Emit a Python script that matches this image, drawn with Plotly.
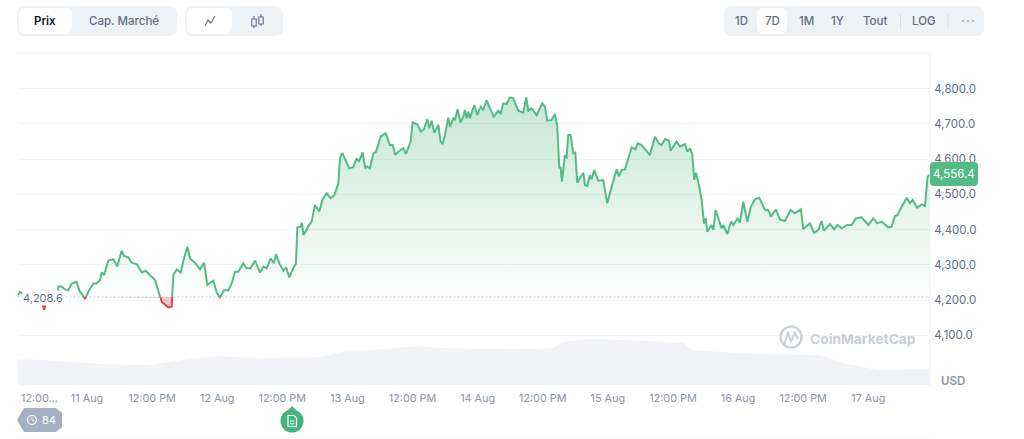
import numpy as np
import plotly.graph_objects as go

# ---------- data ----------
hours = [-12.7,-12.35,-10.5,-8.3,-7.9,-7.5,-5.5,-5.28,-4.67,-4.05,-3.44,-2.82,-1.9,-1.41,-0.8,-0.37,0.25,1.17,1.78,2.4,2.71,3.14,3.93,4.86,5.59,6.39,6.82,7.62,8.24,9.16,10.08,10.81,11.61,12.54,13.46,13.58,13.76,14.2,14.99,15.6,15.91,16.53,17.27,17.88,18.49,18.99,19.91,20.83,21.57,22.18,23.29,23.9,24.51,25.25,26.05,26.66,27.28,27.89,28.81,29.43,30.17,30.97,31.89,32.5,33.11,33.85,34.47,34.84,35.45,36.19,36.68,37.29,38.03,38.52,
38.76,39.38,39.62,39.87,40.48,40.79,41.4,42.02,42.82,43.37,44.17,44.9,45.58,46.32,46.62,47.05,47.55,48.34,49.08,49.7,50.13,50.8,51.29,51.66,52.15,52.77,53.26,54.12,55.04,55.84,56.33,56.82,57.37,58.3,58.79,59.65,60.02,60.88,61.55,62.1,62.72,63.09,63.52,64.01,64.75,65.18,65.55,65.97,66.59,66.9,67.51,67.82,68.31,68.86,69.35,69.66,69.97,70.27,70.58,71.38,71.93,72.55,73.04,73.65,74.27,75.0,75.8,76.23,76.73,77.34,77.95,78.57,79.49,80.41,80.96,81.33,81.95,82.87,83.91,84.4,84.83,85.63,86.25,86.68,87.05,87.29,87.54,88.09,88.4,88.7,89.13,89.63,90.0,90.36,90.85,91.47,91.78,92.21,92.7,93.0,93.5,94.23,95.15,95.89,
96.7,97.62,98.05,98.54,99.16,100.39,101.12,101.49,102.23,103.76,104.69,105.48,105.91,106.53,107.27,107.57,108.68,109.29,110.21,110.64,111.14,111.57,111.93,112.24,112.79,113.29,113.72,114.02,114.33,115.13,115.44,115.87,116.97,117.28,118.02,118.69,119.12,119.92,120.35,120.97,121.7,122.32,123.12,123.91,124.96,125.57,126.06,126.98,127.72,128.64,129.69,130.49,131.59,132.02,133.25,133.99,134.79,135.4,135.83,136.94,137.73,138.29,139.09,140.13,140.93,141.73,142.77,144.0,144.92,145.66,146.46,147.69,148.3,148.92,149.41,149.84,151.07,151.68,152.17,153.03,153.83,154.45,154.94,155.37]
prices = [4214,4223,4205,4195,4172,4195,4205,4238,4238,4230,4228,4247,4252,4226.5,4214,4203,4224,4247,4247,4257,4279,4271,4312,4316,4295,4340,4325,4321,4306,4302,4278,4283,4271,4257,4209.5,4206.6,4195.3,4188.6,4179,4181,4271,4287,4278,4318,4351.5,4318,4306,4287,4306,4242.6,4255,4221,4207.6,4228,4228,4247,4280.5,4280.5,4304,4290,4290,4312,4278,4295,4290,4318,4304,4330,4304,4283,4293,4264,4290,4304,
4406,4408,4420,4385,4399,4410,4422.5,4470,4451,4484,4503,4489,4498,4531,4602,4618,4600,4574,4577,4602,4593,4619.4,4574,4579,4574,4616.5,4621,4664,4673.3,4640,4640,4612,4621,4631,4615,4650,4704.6,4699,4678,4685,4714,4688,4709,4675,4697,4650,4643,4668.6,4717.8,4692,4716,4711,4741.5,4703.6,4720.7,4739.6,4716,4735,4716,4753.8,4725.4,4749,4739.6,4768,4744.3,4720.7,4737.7,4728.2,4758.5,4756.6,4775.6,4772.7,4737.7,4732,4775.6,4737.7,4744.3,4725.4,4758.5,4749,4709.3,4711.2,4728.2,4692.3,4574,4578.7,4536,4611.8,4602.3,4668.6,4668.6,4616.5,4618.4,4533.2,4545.5,4561.6,4526.6,4523.7,4555,4542.7,4569.2,4538.9,4540.8,4474.5,
4521.9,4571,4552,4569.2,4571,4633.6,4627.9,4644.9,4640.2,4611.8,4663.9,4643,4640.2,4657.2,4652.5,4624.1,4649.7,4635.5,4643,4621.3,4630.7,4611.8,4540.8,4561.6,4526.6,4484,4417.7,4431.9,4394,4413,4398.8,4455.6,4403.5,4413,4387.4,4422.5,4413,4431.9,4419.6,4479.3,4422.5,4463.2,4485.9,4490.6,4455.6,4455.6,4436.7,4457.5,4429,4424.3,4455.6,4446.1,4457.5,4401.6,4417.7,4391.2,4398.8,4424.3,4396.9,4415.8,4400.7,4413,4403.5,4413,4413,4431.9,4434.8,4413,4431.9,4417.7,4422.5,4406.4,4408.3,4438.6,4441.4,4455.6,4490.6,4474.5,4484,4462.2,4471.7,4467,4550.2,4556.4]
base_price = 4208.6
last_price = 4556.4

vol_hours = [-12.7,-5,2.4,11.6,19,23.6,31.9,38.5,42.9,47.2,54,61.4,64.5,79.8,85.9,87.5,92.7,104.3,109.8,111.7,116.7,124,134.5,136.4,139.3,145.6,155.4]
volumes = [13,12,10.5,10,13,14.5,13.5,14,14,16.5,18,19.5,18.5,18,18.5,21.5,23,22,21,17.5,16.5,15.5,15,14,11,7.5,8]

y_ticks = [4100,4200,4300,4400,4500,4600,4700,4800]
x_ticks = [0,12,24,36,48,60,72,84,96,108,120,132,144]
x_labels = ["11 Aug","12:00 PM","12 Aug","12:00 PM","13 Aug","12:00 PM","14 Aug","12:00 PM","15 Aug","12:00 PM","16 Aug","12:00 PM","17 Aug"]
first_label = "12:00..."

# ---------- style ----------
GREEN = "#55bb86"; RED = "#e0424f"; TXT = "#616e85"; LIGHT = "#8a94a6"; PILL = "#eff2f5"; GRID = "#f1f3f6"
FONT = "Inter"
L, R, T, B = 18, 930, 53, 385
W = 1024; H = 439
X = lambda x: (x - L) / (R - L)
Y = lambda y: (B - y) / (B - T)

# split the series at crossings of the reference price
hx, hp = [], []
for i in range(len(hours)):
    if i and (prices[i-1] - base_price) * (prices[i] - base_price) < 0:
        f = (base_price - prices[i-1]) / (prices[i] - prices[i-1])
        hx.append(hours[i-1] + f * (hours[i] - hours[i-1])); hp.append(base_price)
    hx.append(hours[i]); hp.append(prices[i])
hx = np.array(hx); hp = np.array(hp)
up = np.where(hp >= base_price, hp, np.nan)
dn = np.where(hp <= base_price, hp, np.nan)

fig = go.Figure()
fig.add_trace(go.Scatter(x=vol_hours, y=volumes, yaxis="y2", mode="lines", line=dict(width=0, color=PILL),
                         fill="tozeroy", fillcolor="#f1f3f6", hoverinfo="skip"))
# green fill
fig.add_trace(go.Scatter(x=hx, y=np.full(len(hx), base_price), mode="lines", line=dict(width=0), hoverinfo="skip"))
fig.add_trace(go.Scatter(x=hx, y=np.maximum(hp, base_price), mode="lines", line=dict(width=0), fill="tonexty",
                         fillgradient=dict(type="vertical", start=base_price, stop=4800,
                                           colorscale=[[0, "rgba(84,181,130,0.02)"], [1, "rgba(84,181,130,0.34)"]]),
                         hoverinfo="skip"))
# red fill
fig.add_trace(go.Scatter(x=hx, y=np.full(len(hx), base_price), mode="lines", line=dict(width=0), hoverinfo="skip"))
fig.add_trace(go.Scatter(x=hx, y=np.minimum(hp, base_price), mode="lines", line=dict(width=0), fill="tonexty",
                         fillcolor="rgba(224,66,79,0.3)", hoverinfo="skip"))
# reference line
fig.add_trace(go.Scatter(x=[hours[0], hours[-1]], y=[base_price, base_price], mode="lines",
                         line=dict(color="#a6b0c3", width=1, dash="1px 3px"), hoverinfo="skip"))
# price lines
fig.add_trace(go.Scatter(x=hx, y=up, mode="lines", line=dict(color=GREEN, width=2, shape="linear"), connectgaps=False))
fig.add_trace(go.Scatter(x=hx, y=dn, mode="lines", line=dict(color=RED, width=2), connectgaps=False))

shapes, ann = [], []

def rrect(x0, y0, x1, y1, r, color):
    a, b, c, d = X(x0), Y(y0), X(x1), Y(y1)
    rx = r / (R - L); ry = r / (B - T)
    p = (f"M{a+rx},{b} L{c-rx},{b} Q{c},{b} {c},{b-ry} L{c},{d+ry} Q{c},{d} {c-rx},{d} "
         f"L{a+rx},{d} Q{a},{d} {a},{d+ry} L{a},{b-ry} Q{a},{b} {a+rx},{b} Z")
    shapes.append(dict(type="path", path=p, xref="paper", yref="paper", fillcolor=color, line=dict(width=0), layer="above"))

def poly(pts, color, width=1.2, fill=None, close=False):
    p = "M" + " L".join(f"{X(a)},{Y(b)}" for a, b in pts) + (" Z" if close else "")
    shapes.append(dict(type="path", path=p, xref="paper", yref="paper", layer="above",
                       line=dict(color=color, width=width), fillcolor=fill or "rgba(0,0,0,0)"))

def circ(cx, cy, r, line=None, fill=None, width=1.2):
    shapes.append(dict(type="circle", xref="paper", yref="paper", layer="above",
                       x0=X(cx - r), x1=X(cx + r), y0=Y(cy + r), y1=Y(cy - r),
                       line=dict(color=line or "rgba(0,0,0,0)", width=width if line else 0),
                       fillcolor=fill or "rgba(0,0,0,0)"))

def text(t, x, y, size=12, color=TXT, anchor="center", weight=400, bg=None):
    ann.append(dict(text=t, xref="paper", yref="paper", x=X(x), y=Y(y), xanchor=anchor, yanchor="middle",
                    showarrow=False, bgcolor=bg, borderpad=0,
                    font=dict(family=FONT, size=size, color=color, weight=weight)))

# top controls
rrect(17, 6, 177, 36, 8, PILL); rrect(19, 8, 72, 34, 7, "#ffffff")
text("Prix", 45, 21, 11.5, "#0d1421", weight=600)
text("Cap. Marché", 124, 21, 11.5, TXT, weight=500)
rrect(185, 6, 283, 36, 8, PILL); rrect(187, 8, 232, 34, 7, "#ffffff")
poly([(205, 26), (208, 20), (211, 23), (215, 16)], TXT, 1.1)
for cx, a, b in [(254, 19, 26), (261, 17, 24)]:
    rrect(cx - 2.2, a, cx + 2.2, b, 1, PILL)
    poly([(cx - 2.2, a), (cx + 2.2, a), (cx + 2.2, b), (cx - 2.2, b)], TXT, 1.1, close=True)
    poly([(cx, a - 3), (cx, a)], TXT, 1.1); poly([(cx, b), (cx, b + 2)], TXT, 1.1)
rrect(724, 6, 984, 36, 8, PILL); rrect(757, 8, 787, 34, 7, "#ffffff")
for t, cx in [("1D", 741), ("7D", 772), ("1M", 806), ("1Y", 837.5), ("Tout", 875), ("LOG", 924)]:
    text(t, cx, 21, 11.5, TXT, weight=500)
poly([(900.5, 14), (900.5, 29)], "#d8dde5", 1); poly([(948, 14), (948, 29)], "#d8dde5", 1)
for cx in (963, 968, 973):
    circ(cx, 21, 0.8, fill=TXT)

# frame lines
poly([(R, T), (R, 385)], GRID, 1)
poly([(L, 437), (R, 437)], GRID, 1)
poly([(L, T), (R, T)], GRID, 1)

# price tag and labels
rrect(930, 162, 978, 186, 4, GREEN)
text(f"{last_price:,.1f}", 954, 174, 11.5, "#ffffff")
text(f"{base_price:,.1f}", 43, 298, 11, TXT, bg="#ffffff")
text("USD", 953, 380.5, 11.5, LIGHT, weight=600)
ann.append(dict(text=first_label, xref="x", yref="paper", x=-12.6, y=Y(398), xanchor="left", yanchor="middle",
                showarrow=False, font=dict(family=FONT, size=10.8, color=LIGHT)))

# watermark
circ(791, 337, 10.5, line="#c9ced8", width=2.2)
poly([(784, 344), (788, 333), (791, 341), (795, 333), (798, 339)], "#c9ced8", 2)
text("CoinMarketCap", 862.5, 339, 13.8, "#c9ced8", weight=700)

# history badge
poly([(24, 408), (56, 408), (62, 413), (62, 427), (56, 432), (24, 432), (17, 420)], "#a6b0c3", 0, fill="#a6b0c3", close=True)
circ(32, 420, 4.5, line="#ffffff", width=1.2)
poly([(32, 417.5), (32, 420), (34, 421.5)], "#ffffff", 1)
text("84", 49, 420, 11, "#ffffff", weight=400)

# note badge
poly([(288, 410), (292, 406), (296, 410)], "#45b37c", 0, fill="#45b37c", close=True)
circ(292, 421, 11.5, fill="#45b37c")
poly([(288, 415.5), (294, 415.5), (296.5, 418), (296.5, 426.5), (288, 426.5)], "#ffffff", 1.2, close=True)
poly([(290, 421), (294.5, 421)], "#ffffff", 1); poly([(290, 423.8), (294.5, 423.8)], "#ffffff", 1)

fig.update_layout(
    width=W, height=H, autosize=False, showlegend=False,
    margin=dict(l=L, r=W - R, t=T, b=H - B),
    paper_bgcolor="#ffffff", plot_bgcolor="#ffffff",
    font=dict(family=FONT, color=TXT),
    xaxis=dict(range=[-12.72, 155.38], tickmode="array", tickvals=x_ticks, ticktext=x_labels,
               showgrid=False, zeroline=False, showline=False, ticks="outside", ticklen=3, tickcolor="rgba(0,0,0,0)",
               tickfont=dict(family=FONT, size=10.8, color=LIGHT)),
    yaxis=dict(range=[3958.6, 4901.5], side="right", tickmode="array", tickvals=y_ticks, tickformat=",.1f",
               showgrid=True, gridcolor=GRID, gridwidth=1, zeroline=False, showline=False,
               ticks="outside", ticklen=1, tickcolor="rgba(0,0,0,0)",
               tickfont=dict(family=FONT, size=11.5, color=TXT)),
    yaxis2=dict(range=[0, 166], overlaying="y", visible=False),
    shapes=shapes, annotations=ann,
)
fig.write_html("out.html", config=dict(displayModeBar=False),
               post_script="document.body.style.margin='0';")
